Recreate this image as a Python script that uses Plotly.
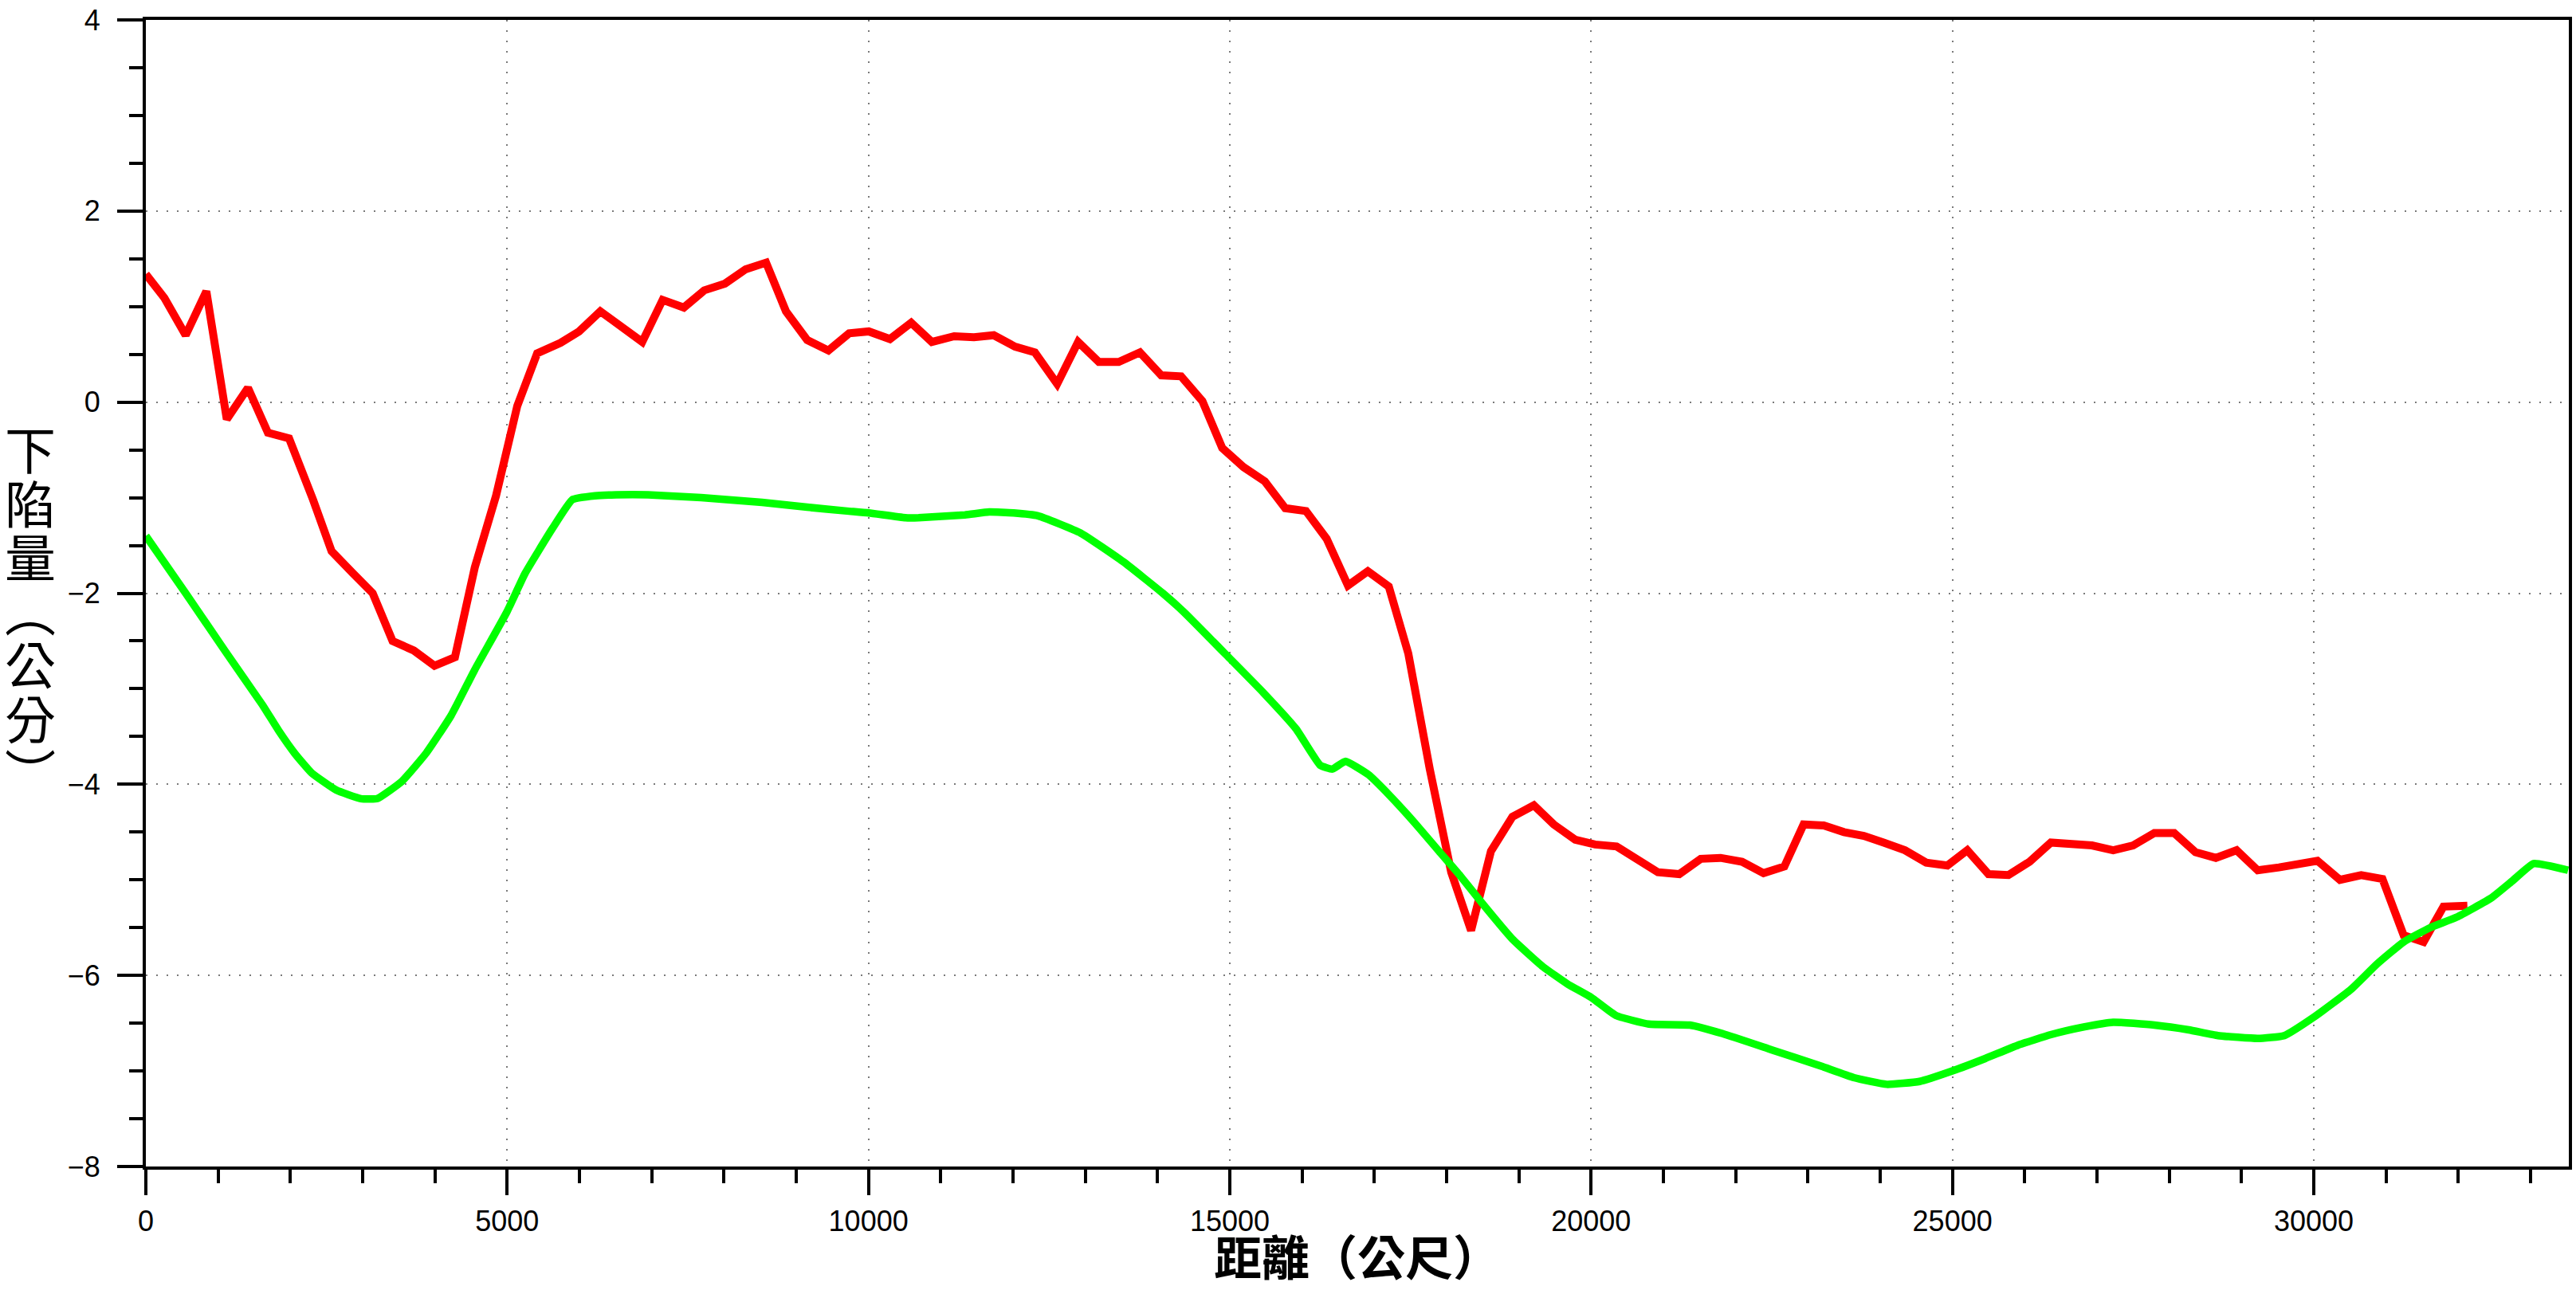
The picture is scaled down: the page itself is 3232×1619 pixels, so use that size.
import plotly.graph_objects as go

# Red series: distance (m) and subsidence (cm)
red_x = [0, 257, 551, 837, 1120, 1413, 1689, 1982, 2313, 2570, 2863, 3139, 3414, 3708, 3994, 4277,
         4552, 4846, 5140, 5415, 5738, 5995, 6289, 6582, 6869, 7151, 7445, 7728, 8014, 8300, 8583,
         8858, 9152, 9446, 9732, 10004, 10297, 10591, 10877, 11186, 11460, 11734, 12029, 12303,
         12611, 12901, 13188, 13462, 13757, 14052, 14326, 14621, 14895, 15190, 15485, 15767, 16054,
         16340, 16635, 16910, 17200, 17470, 17767, 18064, 18339, 18614, 18911, 19208, 19483, 19780,
         20055, 20352, 20627, 20924, 21220, 21517, 21792, 22089, 22386, 22674, 22940, 23220, 23499,
         23774, 24049, 24343, 24637, 24930, 25206, 25499, 25775, 26068, 26362, 26656, 26931, 27225,
         27500, 27794, 28069, 28363, 28645, 28932, 29225, 29519, 29776, 30051, 30363, 30657, 30951,
         31244, 31520, 31795, 32126]
red_y = [1.34, 1.09, 0.70, 1.16, -0.18, 0.15, -0.32, -0.38, -1.02, -1.56, -1.79, -2.00, -2.50, -2.60,
         -2.76, -2.67, -1.73, -0.98, -0.04, 0.51, 0.62, 0.74, 0.95, 0.79, 0.63, 1.07, 0.99, 1.17, 1.24,
         1.39, 1.46, 0.95, 0.65, 0.54, 0.72, 0.74, 0.66, 0.83, 0.63, 0.69, 0.68, 0.70, 0.58, 0.52,
         0.19, 0.63, 0.42, 0.42, 0.52, 0.28, 0.27, 0.01, -0.48, -0.68, -0.83, -1.11, -1.14, -1.43,
         -1.92, -1.77, -1.93, -2.63, -3.84, -4.92, -5.53, -4.70, -4.34, -4.22, -4.42, -4.58, -4.63,
         -4.65, -4.78, -4.92, -4.94, -4.78, -4.77, -4.81, -4.93, -4.86, -4.42, -4.43, -4.50, -4.54,
         -4.61, -4.69, -4.82, -4.85, -4.69, -4.94, -4.95, -4.81, -4.61, -4.63, -4.64, -4.69, -4.64,
         -4.51, -4.51, -4.71, -4.77, -4.69, -4.90, -4.87, -4.84, -4.80, -5.00, -4.95, -4.99, -5.58,
         -5.65, -5.28, -5.27]

# Green series
green_x = [0, 551, 1101, 1615, 1839, 2064, 2293, 2634, 2975, 3202, 3542, 3883, 4224, 4552, 4993, 5250,
           5628, 5903, 6215, 6509, 6949, 7684, 8528, 9152, 9703, 10004, 10510, 10694, 11334, 11671,
           12008, 12345, 12935, 13525, 14073, 14368, 14996, 15463, 15917, 16250, 16420, 16600, 16920,
           17216, 17555, 17894, 18191, 18487, 18911, 19335, 19674, 20000, 20345, 20799, 21367, 21821,
           22502, 23183, 23637, 24091, 24546, 25000, 25454, 25908, 26362, 26817, 27225, 27794, 28271,
           28675, 29225, 29592, 29996, 30510, 30877, 31244, 31612, 31979, 32456, 32750, 33043, 33520]
green_y = [-1.40, -2.00, -2.61, -3.17, -3.44, -3.68, -3.88, -4.06, -4.15, -4.15, -3.97, -3.67, -3.28,
           -2.80, -2.20, -1.79, -1.32, -1.02, -0.98, -0.97, -0.97, -1.00, -1.05, -1.10, -1.14, -1.16,
           -1.21, -1.21, -1.18, -1.15, -1.16, -1.19, -1.37, -1.67, -2.00, -2.20, -2.68, -3.04, -3.42,
           -3.80, -3.84, -3.76, -3.90, -4.12, -4.40, -4.70, -4.96, -5.24, -5.62, -5.91, -6.09, -6.23,
           -6.42, -6.51, -6.52, -6.61, -6.78, -6.95, -7.07, -7.14, -7.11, -7.00, -6.87, -6.73, -6.62,
           -6.54, -6.49, -6.52, -6.57, -6.63, -6.66, -6.63, -6.44, -6.15, -5.88, -5.65, -5.50, -5.39,
           -5.19, -5.01, -4.83, -4.90]

x_title = "距離（公尺）"
y_title_chars = ["下", "陷", "量", "︵", "公", "分", "︶"]

W, H = 3232, 1619
ML, MR, MT, MB = 183, 5, 20, 155

fig = go.Figure()
fig.add_trace(go.Scatter(x=red_x, y=red_y, mode="lines",
                         line=dict(color="#ff0000", width=10), showlegend=False))
fig.add_trace(go.Scatter(x=green_x, y=green_y, mode="lines",
                         line=dict(color="#00ff00", width=9.5, shape="spline", smoothing=0.4),
                         showlegend=False))

tickfont = dict(family="Liberation Sans, Arial, sans-serif", size=36, color="black")

fig.update_xaxes(range=[0, 33530], tickmode="linear", tick0=0, dtick=5000, tickformat="d",
                 ticks="outside", ticklen=32, tickwidth=4, tickcolor="black",
                 showline=True, linewidth=4, linecolor="black", mirror=True,
                 showgrid=True, gridcolor="#7a7a7a", gridwidth=1.5, griddash="2px,11px",
                 zeroline=False, tickfont=tickfont, ticklabelstandoff=2,
                 ticklabeloverflow="allow",
                 minor=dict(dtick=1000, tick0=0, ticks="outside", ticklen=17, tickwidth=4,
                            tickcolor="black", showgrid=False))
fig.update_yaxes(range=[-8, 4], tickmode="linear", tick0=0, dtick=2,
                 ticks="outside", ticklen=32, tickwidth=4, tickcolor="black",
                 showline=True, linewidth=4, linecolor="black", mirror=True,
                 showgrid=True, gridcolor="#7a7a7a", gridwidth=1.5, griddash="2px,11px",
                 zeroline=False, tickfont=tickfont, ticklabelstandoff=14,
                 ticklabeloverflow="allow",
                 minor=dict(dtick=0.5, tick0=0, ticks="outside", ticklen=17, tickwidth=4,
                            tickcolor="black", showgrid=False))

cjk = "Noto Sans CJK TC, Noto Sans CJK SC, sans-serif"
y_title_text = "<br>".join("<span style='font-size:64px'>%s</span>" % c for c in y_title_chars)
annotations = [
    dict(text=y_title_text, xref="paper", yref="paper", x=0, y=1,
         xshift=38 - ML, yshift=-(759 - MT), xanchor="center", yanchor="middle",
         showarrow=False, font=dict(family=cjk, size=52, color="black")),
    dict(text="<b>" + x_title + "</b>", xref="paper", yref="paper", x=0.5, y=0,
         yshift=-(1574 - 1464), xanchor="center", yanchor="middle",
         showarrow=False, font=dict(family=cjk, size=60, color="black")),
]

fig.update_layout(width=W, height=H, margin=dict(l=ML, r=MR, t=MT, b=MB, pad=0),
                  plot_bgcolor="white", paper_bgcolor="white", annotations=annotations)

# remove the default 8px page margin so the figure fills the window exactly
fig.write_html("out.html", config={"displayModeBar": False},
               post_script="document.body.style.margin='0px';")
